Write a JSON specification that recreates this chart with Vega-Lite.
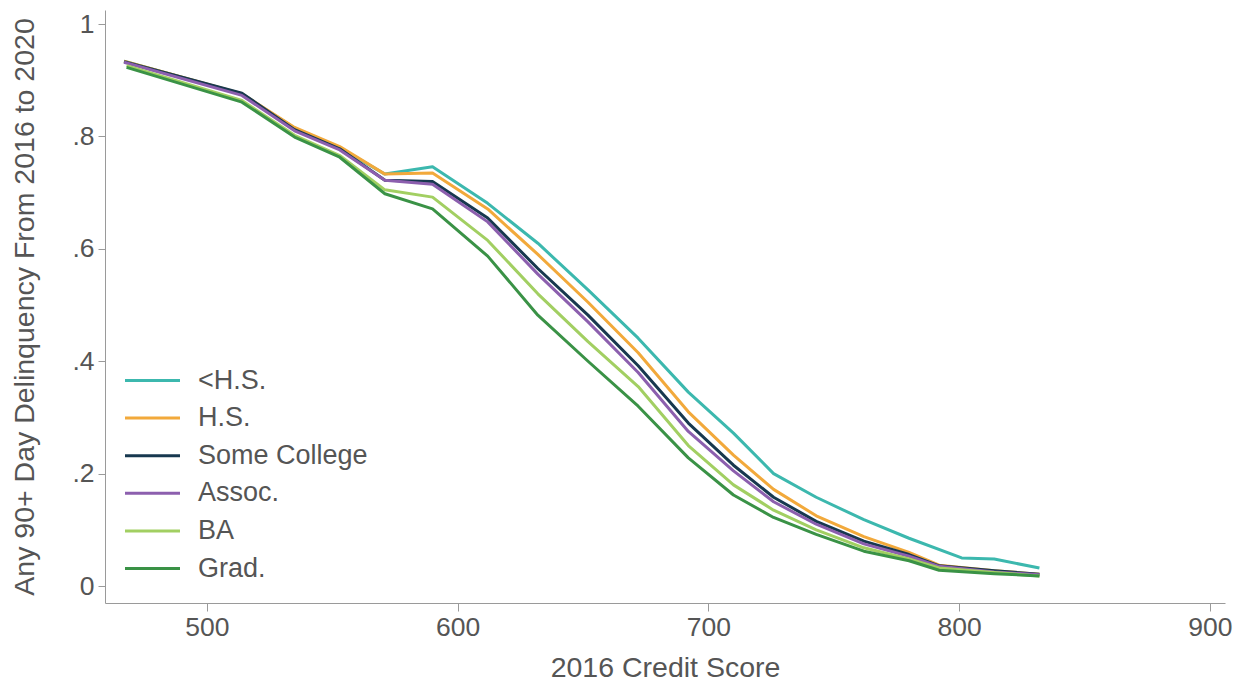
{
  "$schema": "https://vega.github.io/schema/vega-lite/v6.json",
  "width": 1120,
  "height": 593,
  "autosize": "none",
  "padding": {"left": 105, "top": 10, "right": 20, "bottom": 82},
  "background": "white",
  "config": {
    "view": {"stroke": null},
    "font": "Liberation Sans",
    "axis": {"grid": false, "domainColor": "#9a9a9a", "tickColor": "#9a9a9a", "labelColor": "#555555", "titleColor": "#555555", "labelFontSize": 26.5, "titleFontSize": 28.5, "titleFontWeight": "normal", "labelFont": "Liberation Sans", "titleFont": "Liberation Sans"}
  },
  "datasets": {
    "d": [
      {"score": 467, "edu": "<H.S.", "p": 0.934}, {"score": 514, "edu": "<H.S.", "p": 0.875}, {"score": 535, "edu": "<H.S.", "p": 0.815}, {"score": 553, "edu": "<H.S.", "p": 0.780}, {"score": 571, "edu": "<H.S.", "p": 0.733}, {"score": 590, "edu": "<H.S.", "p": 0.746}, {"score": 612, "edu": "<H.S.", "p": 0.681}, {"score": 632, "edu": "<H.S.", "p": 0.610}, {"score": 652, "edu": "<H.S.", "p": 0.527}, {"score": 672, "edu": "<H.S.", "p": 0.441}, {"score": 692, "edu": "<H.S.", "p": 0.345}, {"score": 710, "edu": "<H.S.", "p": 0.272}, {"score": 726, "edu": "<H.S.", "p": 0.200}, {"score": 743, "edu": "<H.S.", "p": 0.158}, {"score": 762, "edu": "<H.S.", "p": 0.118}, {"score": 780, "edu": "<H.S.", "p": 0.085}, {"score": 801, "edu": "<H.S.", "p": 0.050}, {"score": 814, "edu": "<H.S.", "p": 0.048}, {"score": 832, "edu": "<H.S.", "p": 0.032},
      {"score": 467, "edu": "H.S.", "p": 0.934}, {"score": 514, "edu": "H.S.", "p": 0.876}, {"score": 535, "edu": "H.S.", "p": 0.816}, {"score": 553, "edu": "H.S.", "p": 0.782}, {"score": 571, "edu": "H.S.", "p": 0.733}, {"score": 590, "edu": "H.S.", "p": 0.735}, {"score": 612, "edu": "H.S.", "p": 0.671}, {"score": 632, "edu": "H.S.", "p": 0.590}, {"score": 652, "edu": "H.S.", "p": 0.505}, {"score": 672, "edu": "H.S.", "p": 0.415}, {"score": 692, "edu": "H.S.", "p": 0.310}, {"score": 710, "edu": "H.S.", "p": 0.233}, {"score": 726, "edu": "H.S.", "p": 0.172}, {"score": 743, "edu": "H.S.", "p": 0.125}, {"score": 762, "edu": "H.S.", "p": 0.088}, {"score": 780, "edu": "H.S.", "p": 0.060}, {"score": 792, "edu": "H.S.", "p": 0.037}, {"score": 814, "edu": "H.S.", "p": 0.027}, {"score": 832, "edu": "H.S.", "p": 0.021},
      {"score": 467, "edu": "Some College", "p": 0.933}, {"score": 514, "edu": "Some College", "p": 0.877}, {"score": 535, "edu": "Some College", "p": 0.812}, {"score": 553, "edu": "Some College", "p": 0.778}, {"score": 571, "edu": "Some College", "p": 0.722}, {"score": 590, "edu": "Some College", "p": 0.720}, {"score": 612, "edu": "Some College", "p": 0.655}, {"score": 632, "edu": "Some College", "p": 0.565}, {"score": 652, "edu": "Some College", "p": 0.482}, {"score": 672, "edu": "Some College", "p": 0.392}, {"score": 692, "edu": "Some College", "p": 0.290}, {"score": 710, "edu": "Some College", "p": 0.215}, {"score": 726, "edu": "Some College", "p": 0.158}, {"score": 743, "edu": "Some College", "p": 0.115}, {"score": 762, "edu": "Some College", "p": 0.080}, {"score": 780, "edu": "Some College", "p": 0.056}, {"score": 792, "edu": "Some College", "p": 0.036}, {"score": 814, "edu": "Some College", "p": 0.027}, {"score": 832, "edu": "Some College", "p": 0.021},
      {"score": 467, "edu": "Assoc.", "p": 0.932}, {"score": 514, "edu": "Assoc.", "p": 0.873}, {"score": 535, "edu": "Assoc.", "p": 0.810}, {"score": 553, "edu": "Assoc.", "p": 0.776}, {"score": 571, "edu": "Assoc.", "p": 0.722}, {"score": 590, "edu": "Assoc.", "p": 0.715}, {"score": 612, "edu": "Assoc.", "p": 0.648}, {"score": 632, "edu": "Assoc.", "p": 0.555}, {"score": 652, "edu": "Assoc.", "p": 0.470}, {"score": 672, "edu": "Assoc.", "p": 0.380}, {"score": 692, "edu": "Assoc.", "p": 0.275}, {"score": 710, "edu": "Assoc.", "p": 0.205}, {"score": 726, "edu": "Assoc.", "p": 0.150}, {"score": 743, "edu": "Assoc.", "p": 0.110}, {"score": 762, "edu": "Assoc.", "p": 0.075}, {"score": 780, "edu": "Assoc.", "p": 0.053}, {"score": 792, "edu": "Assoc.", "p": 0.035}, {"score": 814, "edu": "Assoc.", "p": 0.025}, {"score": 832, "edu": "Assoc.", "p": 0.020},
      {"score": 468, "edu": "BA", "p": 0.926}, {"score": 514, "edu": "BA", "p": 0.864}, {"score": 535, "edu": "BA", "p": 0.802}, {"score": 553, "edu": "BA", "p": 0.766}, {"score": 571, "edu": "BA", "p": 0.705}, {"score": 590, "edu": "BA", "p": 0.692}, {"score": 612, "edu": "BA", "p": 0.615}, {"score": 632, "edu": "BA", "p": 0.520}, {"score": 652, "edu": "BA", "p": 0.435}, {"score": 672, "edu": "BA", "p": 0.355}, {"score": 692, "edu": "BA", "p": 0.250}, {"score": 710, "edu": "BA", "p": 0.180}, {"score": 726, "edu": "BA", "p": 0.135}, {"score": 743, "edu": "BA", "p": 0.100}, {"score": 762, "edu": "BA", "p": 0.068}, {"score": 780, "edu": "BA", "p": 0.048}, {"score": 792, "edu": "BA", "p": 0.032}, {"score": 814, "edu": "BA", "p": 0.024}, {"score": 832, "edu": "BA", "p": 0.018},
      {"score": 468, "edu": "Grad.", "p": 0.923}, {"score": 514, "edu": "Grad.", "p": 0.861}, {"score": 535, "edu": "Grad.", "p": 0.799}, {"score": 553, "edu": "Grad.", "p": 0.763}, {"score": 571, "edu": "Grad.", "p": 0.698}, {"score": 590, "edu": "Grad.", "p": 0.671}, {"score": 612, "edu": "Grad.", "p": 0.587}, {"score": 632, "edu": "Grad.", "p": 0.482}, {"score": 652, "edu": "Grad.", "p": 0.400}, {"score": 672, "edu": "Grad.", "p": 0.320}, {"score": 692, "edu": "Grad.", "p": 0.228}, {"score": 710, "edu": "Grad.", "p": 0.162}, {"score": 726, "edu": "Grad.", "p": 0.122}, {"score": 743, "edu": "Grad.", "p": 0.092}, {"score": 762, "edu": "Grad.", "p": 0.062}, {"score": 780, "edu": "Grad.", "p": 0.045}, {"score": 792, "edu": "Grad.", "p": 0.028}, {"score": 814, "edu": "Grad.", "p": 0.022}, {"score": 832, "edu": "Grad.", "p": 0.018}
    ]
  },
  "data": {"name": "d"},
  "mark": {"type": "line", "strokeWidth": 3, "strokeJoin": "round"},
  "encoding": {
    "x": {"field": "score", "type": "quantitative", "title": "2016 Credit Score",
      "scale": {"domain": [459.4, 906], "nice": false, "zero": false},
      "axis": {"values": [500, 600, 700, 800, 900], "tickSize": 8, "labelPadding": 3, "titlePadding": 13}},
    "y": {"field": "p", "type": "quantitative", "title": "Any 90+ Day Delinquency From 2016 to 2020",
      "scale": {"domain": [-0.0302, 1.025], "nice": false, "zero": false},
      "axis": {"values": [0, 0.2, 0.4, 0.6, 0.8, 1], "labelExpr": "datum.value == 0 ? '0' : datum.value == 1 ? '1' : replace(format(datum.value, '.1f'), '0.', '.')", "tickSize": 7, "labelPadding": 4, "titlePadding": 32}},
    "color": {"field": "edu", "type": "nominal", "title": null,
      "sort": ["<H.S.", "H.S.", "Some College", "Assoc.", "BA", "Grad."],
      "scale": {"domain": ["<H.S.", "H.S.", "Some College", "Assoc.", "BA", "Grad."], "range": ["#3cb8ae", "#f2a93b", "#17384f", "#8c5fae", "#a2cf62", "#3a9246"]},
      "legend": {"orient": "none", "legendX": 32, "legendY": 355, "symbolType": "M-2,0H2", "symbolSize": 756, "symbolStrokeWidth": 3, "symbolFillColor": "transparent", "labelFontSize": 27, "labelLimit": 400, "labelColor": "#555555", "labelFont": "Liberation Sans", "rowPadding": 8.6, "labelOffset": 30}},
    "order": {"field": "score", "type": "quantitative"}
  }
}
